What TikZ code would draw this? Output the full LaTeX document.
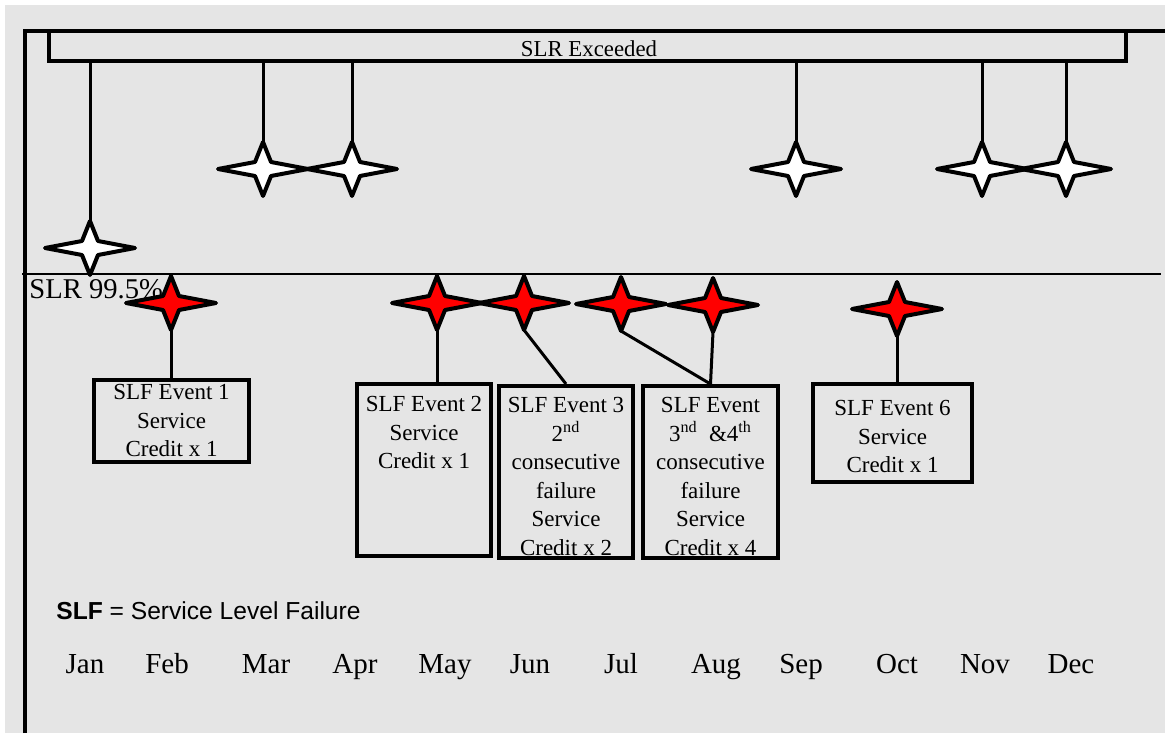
\documentclass[tikz,border=0pt]{standalone}
\usepackage{fontspec}
\setmainfont{Liberation Serif}
\setsansfont{Liberation Sans}
\usetikzlibrary{positioning}
\definecolor{panel}{gray}{0.9}
\tikzset{
  frame/.style={line width=1.75pt},
  link/.style={line width=1.5pt},
  spot/.style={minimum width=45pt, minimum height=27pt, inner sep=0pt, outer sep=0pt},
  slfbox/.style={draw, line width=1.75pt, inner sep=0pt},
  slftext/.style={inner sep=0pt, align=center, font=\fontsize{11.5}{14.25}\selectfont},
  pics/sparkle/.style={code={
      \draw[line width=2pt, line join=round, fill=#1] (22.5pt,0) -- (4pt,3.5pt) -- (0,13.5pt) -- (-4pt,3.5pt)
        -- (-22.5pt,0) -- (-4pt,-3.5pt) -- (0,-13.5pt) -- (4pt,-3.5pt) -- cycle;
    }}
}

\begin{document}
\begin{tikzpicture}[x=0.5pt, y=-0.5pt]
            \useasboundingbox (0,0) rectangle (1165,733);
            \fill[panel] (5,5) rectangle (1165,733);
            \draw[frame] (25,733) -- (25,31) -- (1165,31);
            \draw[line width=1.25pt] (22,274) -- (1161,274);
            \node[draw, frame, minimum width=538.5pt, minimum height=15pt, inner sep=0pt] (exceed) at (587.5,46) {};
            \node[inner sep=0pt, anchor=base, font=\fontsize{11.4}{13}\selectfont] (exceedtext) at (589,57) {SLR Exceeded};
            % stars above and below the SLR line
            \foreach \n/\x/\y in {w1/90/248, w2/263/169, w3/352/169, w4/796/169, w5/982/169, w6/1066/169,
                    r1/171/303, r2/437/303, r3/524/303, r4/621/304, r5/713/305, r6/897/309} {
                    \node[spot] (\n) at (\x,\y) {};
                }
            % event boxes
            \node[slfbox, minimum width=77.5pt, minimum height=41pt] (e1) at (171.5,421) {};
            \node[slfbox, minimum width=67pt, minimum height=86pt] (e2) at (424,470) {};
            \node[slfbox, line width=2pt, minimum width=67pt, minimum height=86pt] (e3) at (566,472) {};
            \node[slfbox, line width=2pt, minimum width=67.5pt, minimum height=86pt] (e4) at (710.5,472) {};
            \node[slfbox, minimum width=79.5pt, minimum height=49pt] (e6) at (892.5,433) {};
            \node[slftext, below=3pt of e1.north] (t1) {SLF Event 1\\Service\\Credit x 1};
            \node[slftext, below=7pt of e2.north] (t2) {SLF Event 2\\Service\\Credit x 1};
            \node[slftext, below=6.5pt of e3.north] (t3) {SLF Event 3\\2\textsuperscript{nd}\\consecutive\\failure\\Service\\Credit x 2};
            \node[slftext, below=6.5pt of e4.north] (t4) {SLF Event\\3\textsuperscript{nd}\ \ \&4\textsuperscript{th}\\consecutive\\failure\\Service\\Credit x 4};
            \node[slftext, below=9pt of e6.north] (t6) {SLF Event 6\\Service\\Credit x 1};
            \foreach \i in {1,...,6} {
                    \draw[link] (w\i.north) -- (w\i.north |- exceed.south);
                }
            \foreach \a/\b in {r1/e1, r2/e2, r6/e6} {
                    \draw[link] (\a.south) -- (\a.south |- \b.north);
                }
            \foreach \a/\b in {r3/e3, r4/e4, r5/e4} {
                    \draw[link] (\a.south) -- (\b.north);
                }
            \foreach \i in {1,...,6} {
                    \pic at (w\i) {sparkle=white};
                    \pic at (r\i) {sparkle=red};
                }
            \node[anchor=base west, inner sep=0pt, font=\fontsize{14.3}{17}\selectfont] (slr) at (29,298) {SLR 99.5\%};
            \node[anchor=base west, inner sep=0pt, font=\sffamily\fontsize{12.3}{14}\selectfont] (legend) at (56,619)
                {\textbf{SLF} = Service Level Failure};
            \foreach \m/\x in {Jan/85, Feb/167, Mar/266, Apr/355, May/445, Jun/530, Jul/621, Aug/716, Sep/801, Oct/897, Nov/985, Dec/1071} {
                    \node[anchor=base, inner sep=0pt, font=\fontsize{14.5}{17}\selectfont] (\m) at (\x,673) {\m};
                }
        \end{tikzpicture}
\end{document}
